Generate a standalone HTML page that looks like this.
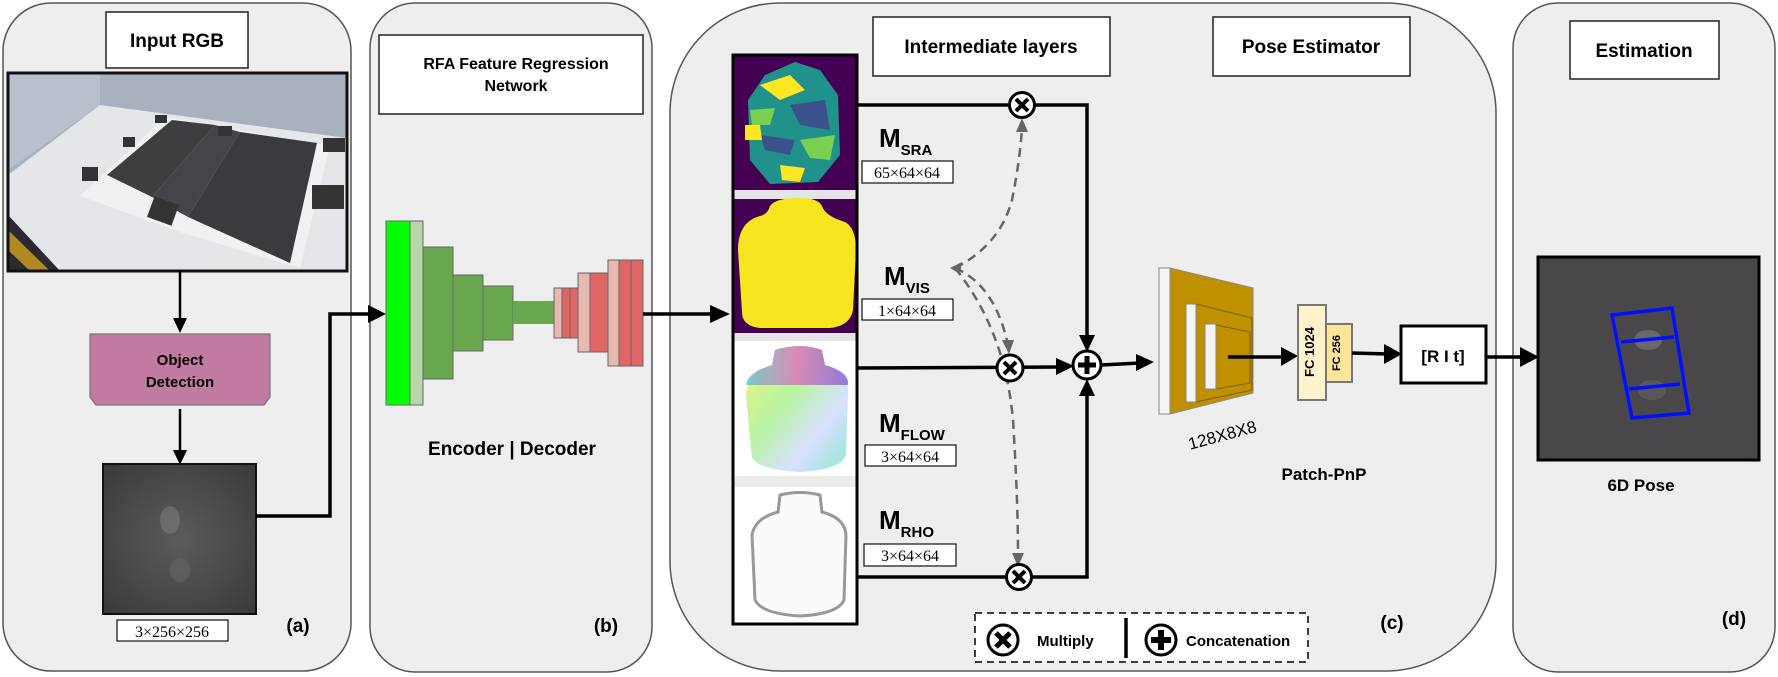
<!DOCTYPE html>
<html><head><meta charset="utf-8"><style>
html,body{margin:0;padding:0;background:#fff;}
svg{display:block;}
text{font-family:"Liberation Sans",sans-serif;}
</style></head><body>
<svg width="1778" height="677" viewBox="0 0 1778 677" xmlns="http://www.w3.org/2000/svg">
<defs>
<marker id="ah" markerWidth="10" markerHeight="10" refX="9" refY="5" orient="auto" markerUnits="userSpaceOnUse">
</marker>
<linearGradient id="flow" x1="0" y1="0" x2="1" y2="1">
<stop offset="0" stop-color="#f6f080"/><stop offset="0.4" stop-color="#b8f5a0"/><stop offset="0.7" stop-color="#d8e0ff"/><stop offset="1" stop-color="#8fe8d0"/>
</linearGradient>
<linearGradient id="flowtop" x1="0" y1="0" x2="1" y2="0">
<stop offset="0" stop-color="#60c0d0"/><stop offset="0.5" stop-color="#e070c0"/><stop offset="1" stop-color="#8060d0"/>
</linearGradient>
<radialGradient id="crop" cx="0.5" cy="0.5" r="0.7"><stop offset="0" stop-color="#5c5a5c"/><stop offset="1" stop-color="#3a393b"/></radialGradient>
</defs>
<rect width="1778" height="677" fill="#fff"/>
<!-- panels -->
<rect x="3" y="3" width="348" height="668" rx="48" fill="#eeeeee" stroke="#555" stroke-width="1.5"/>
<rect x="370" y="3" width="282" height="669" rx="45" fill="#eeeeee" stroke="#555" stroke-width="1.5"/>
<rect x="670" y="3" width="826" height="668" rx="110" fill="#eeeeee" stroke="#555" stroke-width="1.5"/>
<rect x="1513" y="3" width="262" height="669" rx="45" fill="#eeeeee" stroke="#555" stroke-width="1.5"/>

<!-- Panel a -->
<rect x="106" y="12" width="142" height="56" fill="#fff" stroke="#222" stroke-width="1.5"/>
<text x="177" y="47" font-size="19" font-weight="bold" text-anchor="middle">Input RGB</text>
<g>
<rect x="8" y="73" width="339" height="198" fill="#a9b1be"/>
<polygon points="8,73 100,73 100,105 8,170" fill="#b9c0cc"/>
<polygon points="8,175 100,105 347,138 347,271 60,271 8,215" fill="#e4e6ea"/>
<polygon points="8,215 60,271 8,271" fill="#2a2a30"/>
<polygon points="8,230 50,271 30,271 8,250" fill="#b08a20"/>
<polygon points="80,196 165,117 330,146 300,268 180,232" fill="#f1f1f3"/>
<polygon points="107,175 172,120 215,125 152,197" fill="#3e3d40"/>
<polygon points="152,197 215,125 240,132 188,217" fill="#45444a"/>
<polygon points="240,132 317,143 290,263 188,217" fill="#3b3a3e"/>
<rect x="155" y="115" width="12" height="8" fill="#333"/>
<rect x="218" y="126" width="14" height="10" fill="#333"/>
<rect x="123" y="137" width="12" height="10" fill="#333"/>
<rect x="82" y="167" width="16" height="14" fill="#333"/>
<rect x="150" y="200" width="26" height="22" fill="#333" transform="rotate(20 163 211)"/>
<rect x="323" y="138" width="22" height="14" fill="#333"/>
<rect x="312" y="185" width="32" height="24" fill="#333"/>
<rect x="8" y="73" width="339" height="198" fill="none" stroke="#111" stroke-width="3"/>
</g>
<line x1="180" y1="271" x2="180" y2="320" stroke="#000" stroke-width="2.5"/>
<polygon points="173,318 187,318 180,333" fill="#000"/>
<polygon points="90,334 270,334 270,397 264,405 96,405 90,397" fill="#c27ba0" stroke="#777" stroke-width="1.2"/>
<text x="180" y="365" font-size="15" font-weight="bold" text-anchor="middle">Object</text>
<text x="180" y="387" font-size="15" font-weight="bold" text-anchor="middle">Detection</text>
<line x1="180" y1="409" x2="180" y2="452" stroke="#000" stroke-width="2.5"/>
<polygon points="173,450 187,450 180,465" fill="#000"/>
<rect x="103" y="464" width="153" height="150" fill="url(#crop)" stroke="#111" stroke-width="2"/>
<ellipse cx="170" cy="520" rx="10" ry="14" fill="#7a797c" opacity="0.6"/>
<ellipse cx="180" cy="570" rx="10" ry="12" fill="#6a696c" opacity="0.5"/>
<rect x="117" y="620" width="111" height="21" fill="#fff" stroke="#111" stroke-width="1.2"/>
<text x="172" y="637" font-size="16" font-family="Liberation Serif,serif" text-anchor="middle" style="font-family:'Liberation Serif',serif">3×256×256</text>
<text x="298" y="632" font-size="19" font-weight="bold" text-anchor="middle">(a)</text>
<polyline points="256,516 330,516 330,314 372,314" fill="none" stroke="#000" stroke-width="3.5"/>
<polygon points="368,305 386,314 368,323" fill="#000"/>

<!-- Panel b -->
<rect x="379" y="35" width="264" height="79" fill="#fff" stroke="#222" stroke-width="1.5"/>
<text x="516" y="69" font-size="16" font-weight="bold" text-anchor="middle">RFA Feature Regression</text>
<text x="516" y="91" font-size="16" font-weight="bold" text-anchor="middle">Network</text>
<g stroke="#666" stroke-width="1">
<rect x="386" y="221" width="24" height="184" fill="#00ff00"/>
<rect x="410" y="221" width="13" height="184" fill="#b6d7a8"/>
<rect x="423" y="247" width="30" height="132" fill="#6aa84f"/>
<rect x="453" y="275" width="30" height="76" fill="#6aa84f"/>
<rect x="483" y="286" width="30" height="54" fill="#6aa84f"/>
<rect x="513" y="301" width="41" height="23" fill="#6aa84f" stroke="none"/>
<rect x="554" y="288" width="8" height="50" fill="#e6b8af"/>
<rect x="562" y="288" width="8" height="50" fill="#e06666"/>
<rect x="570" y="288" width="8" height="50" fill="#e06666"/>
<rect x="578" y="273" width="12" height="79" fill="#e6b8af"/>
<rect x="590" y="273" width="18" height="79" fill="#e06666"/>
<rect x="608" y="260" width="11" height="106" fill="#e6b8af"/>
<rect x="619" y="260" width="12" height="106" fill="#e06666"/>
<rect x="631" y="260" width="12" height="106" fill="#e06666"/>
</g>
<text x="512" y="455" font-size="19" font-weight="bold" text-anchor="middle">Encoder  |  Decoder</text>
<text x="606" y="632" font-size="19" font-weight="bold" text-anchor="middle">(b)</text>
<line x1="643" y1="314" x2="716" y2="314" stroke="#000" stroke-width="3.5"/>
<polygon points="710,305 730,314 710,323" fill="#000"/>

<!-- Panel c : image stack -->
<rect x="733" y="55" width="124" height="569" fill="#fff"/>
<rect x="734" y="56" width="122" height="134" fill="#440154"/>
<polygon points="748,100 765,75 795,62 820,70 838,95 840,155 818,182 770,184 750,160" fill="#21918c"/>
<polygon points="760,85 790,75 805,90 780,100" fill="#fde725"/>
<polygon points="790,105 825,100 830,130 800,125" fill="#3b528b"/>
<polygon points="750,110 775,108 770,125 752,125" fill="#7ad151"/>
<polygon points="760,135 795,140 790,155 765,150" fill="#3b528b"/>
<polygon points="800,140 835,135 830,160 810,158" fill="#7ad151"/>
<polygon points="780,165 805,168 800,182 782,180" fill="#fde725"/>
<polygon points="745,125 760,125 762,140 745,140" fill="#fde725"/>
<rect x="734" y="190" width="122" height="9" fill="#e4e4e4"/>
<rect x="734" y="199" width="122" height="134" fill="#440154"/>
<path d="M770,206 Q775,198 800,198 Q818,198 822,206 Q825,216 845,222 Q856,228 856,250 L853,310 Q850,326 830,328 L760,328 Q742,326 742,312 L738,250 Q738,222 760,216 Q768,214 770,206 Z" fill="#f6e51f"/>
<rect x="734" y="333" width="122" height="8" fill="#e4e4e4"/>
<rect x="734" y="341" width="122" height="135" fill="#fff"/>
<path d="M775,350 Q800,342 822,350 L825,365 Q850,372 848,395 L846,455 Q840,470 800,472 Q760,470 752,458 L746,395 Q748,372 772,365 Z" fill="url(#flow)"/>
<path d="M775,350 Q800,342 822,350 L825,365 Q850,372 848,385 L746,385 Q748,372 772,365 Z" fill="url(#flowtop)" opacity="0.8"/>
<rect x="734" y="476" width="122" height="11" fill="#ececec"/>
<rect x="734" y="487" width="122" height="135" fill="#fff"/>
<path d="M780,495 Q800,490 820,495 L822,512 Q845,518 846,535 L844,600 Q838,614 800,616 Q762,614 755,600 L752,535 Q755,518 778,512 Z" fill="#fafafa" stroke="#999" stroke-width="3"/>
<rect x="733" y="55" width="124" height="569" fill="none" stroke="#000" stroke-width="3"/>

<rect x="873" y="17" width="237" height="59" fill="#fff" stroke="#222" stroke-width="1.5"/>
<text x="991" y="53" font-size="19" font-weight="bold" text-anchor="middle">Intermediate layers</text>
<rect x="1213" y="17" width="197" height="59" fill="#fff" stroke="#222" stroke-width="1.5"/>
<text x="1311" y="53" font-size="19" font-weight="bold" text-anchor="middle">Pose Estimator</text>

<g font-weight="bold">
<text x="879" y="147" font-size="26">M<tspan font-size="15" dy="8">SRA</tspan></text>
<text x="884" y="285" font-size="26">M<tspan font-size="15" dy="8">VIS</tspan></text>
<text x="879" y="432" font-size="26">M<tspan font-size="15" dy="8">FLOW</tspan></text>
<text x="879" y="529" font-size="26">M<tspan font-size="15" dy="8">RHO</tspan></text>
</g>
<g style="font-family:'Liberation Serif',serif" font-size="16">
<rect x="862" y="161" width="91" height="22" fill="#fff" stroke="#111" stroke-width="1.2"/>
<text x="907" y="178" text-anchor="middle" style="font-family:'Liberation Serif',serif">65×64×64</text>
<rect x="862" y="299" width="91" height="21" fill="#fff" stroke="#111" stroke-width="1.2"/>
<text x="907" y="316" text-anchor="middle" style="font-family:'Liberation Serif',serif">1×64×64</text>
<rect x="865" y="445" width="91" height="21" fill="#fff" stroke="#111" stroke-width="1.2"/>
<text x="910" y="462" text-anchor="middle" style="font-family:'Liberation Serif',serif">3×64×64</text>
<rect x="864" y="544" width="92" height="22" fill="#fff" stroke="#111" stroke-width="1.2"/>
<text x="910" y="561" text-anchor="middle" style="font-family:'Liberation Serif',serif">3×64×64</text>
</g>

<!-- connectors -->
<polyline points="857,105 1087,105 1087,340" fill="none" stroke="#000" stroke-width="3.5"/>
<polygon points="1079,335 1095,335 1087,352" fill="#000"/>
<polyline points="857,577 1087,577 1087,392" fill="none" stroke="#000" stroke-width="3.5"/>
<polygon points="1079,396 1095,396 1087,379" fill="#000"/>
<line x1="857" y1="368" x2="1060" y2="367" stroke="#000" stroke-width="3.5"/>
<polygon points="1056,358 1074,366 1056,375" fill="#000"/>
<line x1="1101" y1="365" x2="1140" y2="363" stroke="#000" stroke-width="3.5"/>
<polygon points="1136,354 1154,362 1136,371" fill="#000"/>

<!-- dashed curves -->
<g fill="none" stroke="#666" stroke-width="2.5" stroke-dasharray="9,6">
<path d="M955,268 Q1000,245 1012,200 Q1020,160 1022,128"/>
<path d="M955,268 Q995,285 1008,345"/>
<path d="M955,268 Q1005,330 1013,420 Q1018,500 1018,555"/>
</g>
<polygon points="1016,132 1028,132 1022,118" fill="#666"/>
<polygon points="1002,340 1014,340 1009,354" fill="#666"/>
<polygon points="1012,553 1024,553 1018,567" fill="#666"/>
<polygon points="950,268 962,262 960,274" fill="#666"/>

<!-- multiply circles -->
<g>
<g transform="translate(1022,105)"><circle r="12.5" fill="#fff" stroke="#000" stroke-width="3"/><path d="M-6,-6 L6,6 M6,-6 L-6,6" stroke="#000" stroke-width="4"/></g>
<g transform="translate(1010,368)"><circle r="13" fill="#fff" stroke="#000" stroke-width="3"/><path d="M-6,-6 L6,6 M6,-6 L-6,6" stroke="#000" stroke-width="4"/></g>
<g transform="translate(1019,577)"><circle r="12.5" fill="#fff" stroke="#000" stroke-width="3"/><path d="M-6,-6 L6,6 M6,-6 L-6,6" stroke="#000" stroke-width="4"/></g>
<g transform="translate(1087,365)"><circle r="14" fill="#fff" stroke="#000" stroke-width="3"/><path d="M0,-9 L0,9 M-9,0 L9,0" stroke="#000" stroke-width="5"/></g>
</g>

<!-- conv block -->
<rect x="1159" y="268" width="11" height="146" fill="#f4f4f4" stroke="#888" stroke-width="1"/>
<polygon points="1170,268 1253,288 1253,393 1170,414" fill="#bf9000" stroke="#888" stroke-width="1"/>
<polygon points="1196,304 1252,318 1252,390 1196,402" fill="none" stroke="#7a6000" stroke-width="1"/>
<rect x="1186" y="304" width="10" height="98" fill="#f4f4f4" stroke="#888" stroke-width="1"/>
<polygon points="1216,325 1250,332 1250,383 1216,389" fill="none" stroke="#7a6000" stroke-width="1"/>
<rect x="1205" y="324" width="11" height="65" fill="#f4f4f4" stroke="#888" stroke-width="1"/>
<line x1="1228" y1="357" x2="1285" y2="357" stroke="#000" stroke-width="3.5"/>
<polygon points="1281,347 1298,356 1281,366" fill="#000"/>
<text x="1222" y="441" font-size="17" text-anchor="middle" transform="rotate(-15 1222 434)">128X8X8</text>
<rect x="1298" y="305" width="28" height="95" fill="#fff2cc" stroke="#777" stroke-width="2"/>
<text x="1318" y="352" font-size="13" font-weight="bold" text-anchor="middle" transform="rotate(-90 1318 352)" dy="-4">FC 1024</text>
<rect x="1326" y="324" width="26" height="58" fill="#ffe599" stroke="#777" stroke-width="2"/>
<text x="1344" y="353" font-size="11" font-weight="bold" text-anchor="middle" transform="rotate(-90 1344 353)" dy="-4">FC 256</text>
<line x1="1352" y1="353" x2="1388" y2="354" stroke="#000" stroke-width="3.5"/>
<polygon points="1384,344 1402,354 1384,364" fill="#000"/>
<rect x="1401" y="326" width="85" height="57" fill="#fff" stroke="#000" stroke-width="3"/>
<text x="1443" y="362" font-size="17" font-weight="bold" text-anchor="middle">[R I t]</text>
<line x1="1486" y1="357" x2="1525" y2="357" stroke="#000" stroke-width="3.5"/>
<polygon points="1520,347 1539,357 1520,367" fill="#000"/>
<text x="1324" y="480" font-size="17" font-weight="bold" text-anchor="middle">Patch-PnP</text>
<text x="1392" y="629" font-size="19" font-weight="bold" text-anchor="middle">(c)</text>

<!-- legend -->
<rect x="975" y="613" width="333" height="49" fill="#fff" stroke="#000" stroke-width="1.5" stroke-dasharray="7,5"/>
<g transform="translate(1003,640)"><circle r="15" fill="#fff" stroke="#000" stroke-width="3"/><path d="M-7,-7 L7,7 M7,-7 L-7,7" stroke="#000" stroke-width="5"/></g>
<text x="1037" y="646" font-size="15" font-weight="bold">Multiply</text>
<line x1="1126" y1="618" x2="1126" y2="658" stroke="#000" stroke-width="3.5"/>
<g transform="translate(1161,640)"><circle r="15" fill="#fff" stroke="#000" stroke-width="3"/><path d="M0,-10 L0,10 M-10,0 L10,0" stroke="#000" stroke-width="6"/></g>
<text x="1186" y="646" font-size="15" font-weight="bold">Concatenation</text>

<!-- panel d -->
<rect x="1570" y="21" width="149" height="58" fill="#fff" stroke="#222" stroke-width="1.5"/>
<text x="1644" y="57" font-size="19" font-weight="bold" text-anchor="middle">Estimation</text>
<rect x="1538" y="257" width="221" height="203" fill="#4a474b" stroke="#000" stroke-width="3"/>
<ellipse cx="1648" cy="340" rx="14" ry="10" fill="#8a8888" opacity="0.5"/>
<ellipse cx="1652" cy="390" rx="14" ry="10" fill="#6a6869" opacity="0.5"/>
<g fill="none" stroke="#0010ff" stroke-width="3.5">
<polygon points="1612,315 1672,308 1689,413 1632,418"/>
<line x1="1621" y1="342" x2="1674" y2="337"/>
<line x1="1629" y1="389" x2="1680" y2="384"/>
</g>
<text x="1641" y="491" font-size="17" font-weight="bold" text-anchor="middle">6D Pose</text>
<text x="1734" y="625" font-size="19" font-weight="bold" text-anchor="middle">(d)</text>
</svg>
</body></html>
